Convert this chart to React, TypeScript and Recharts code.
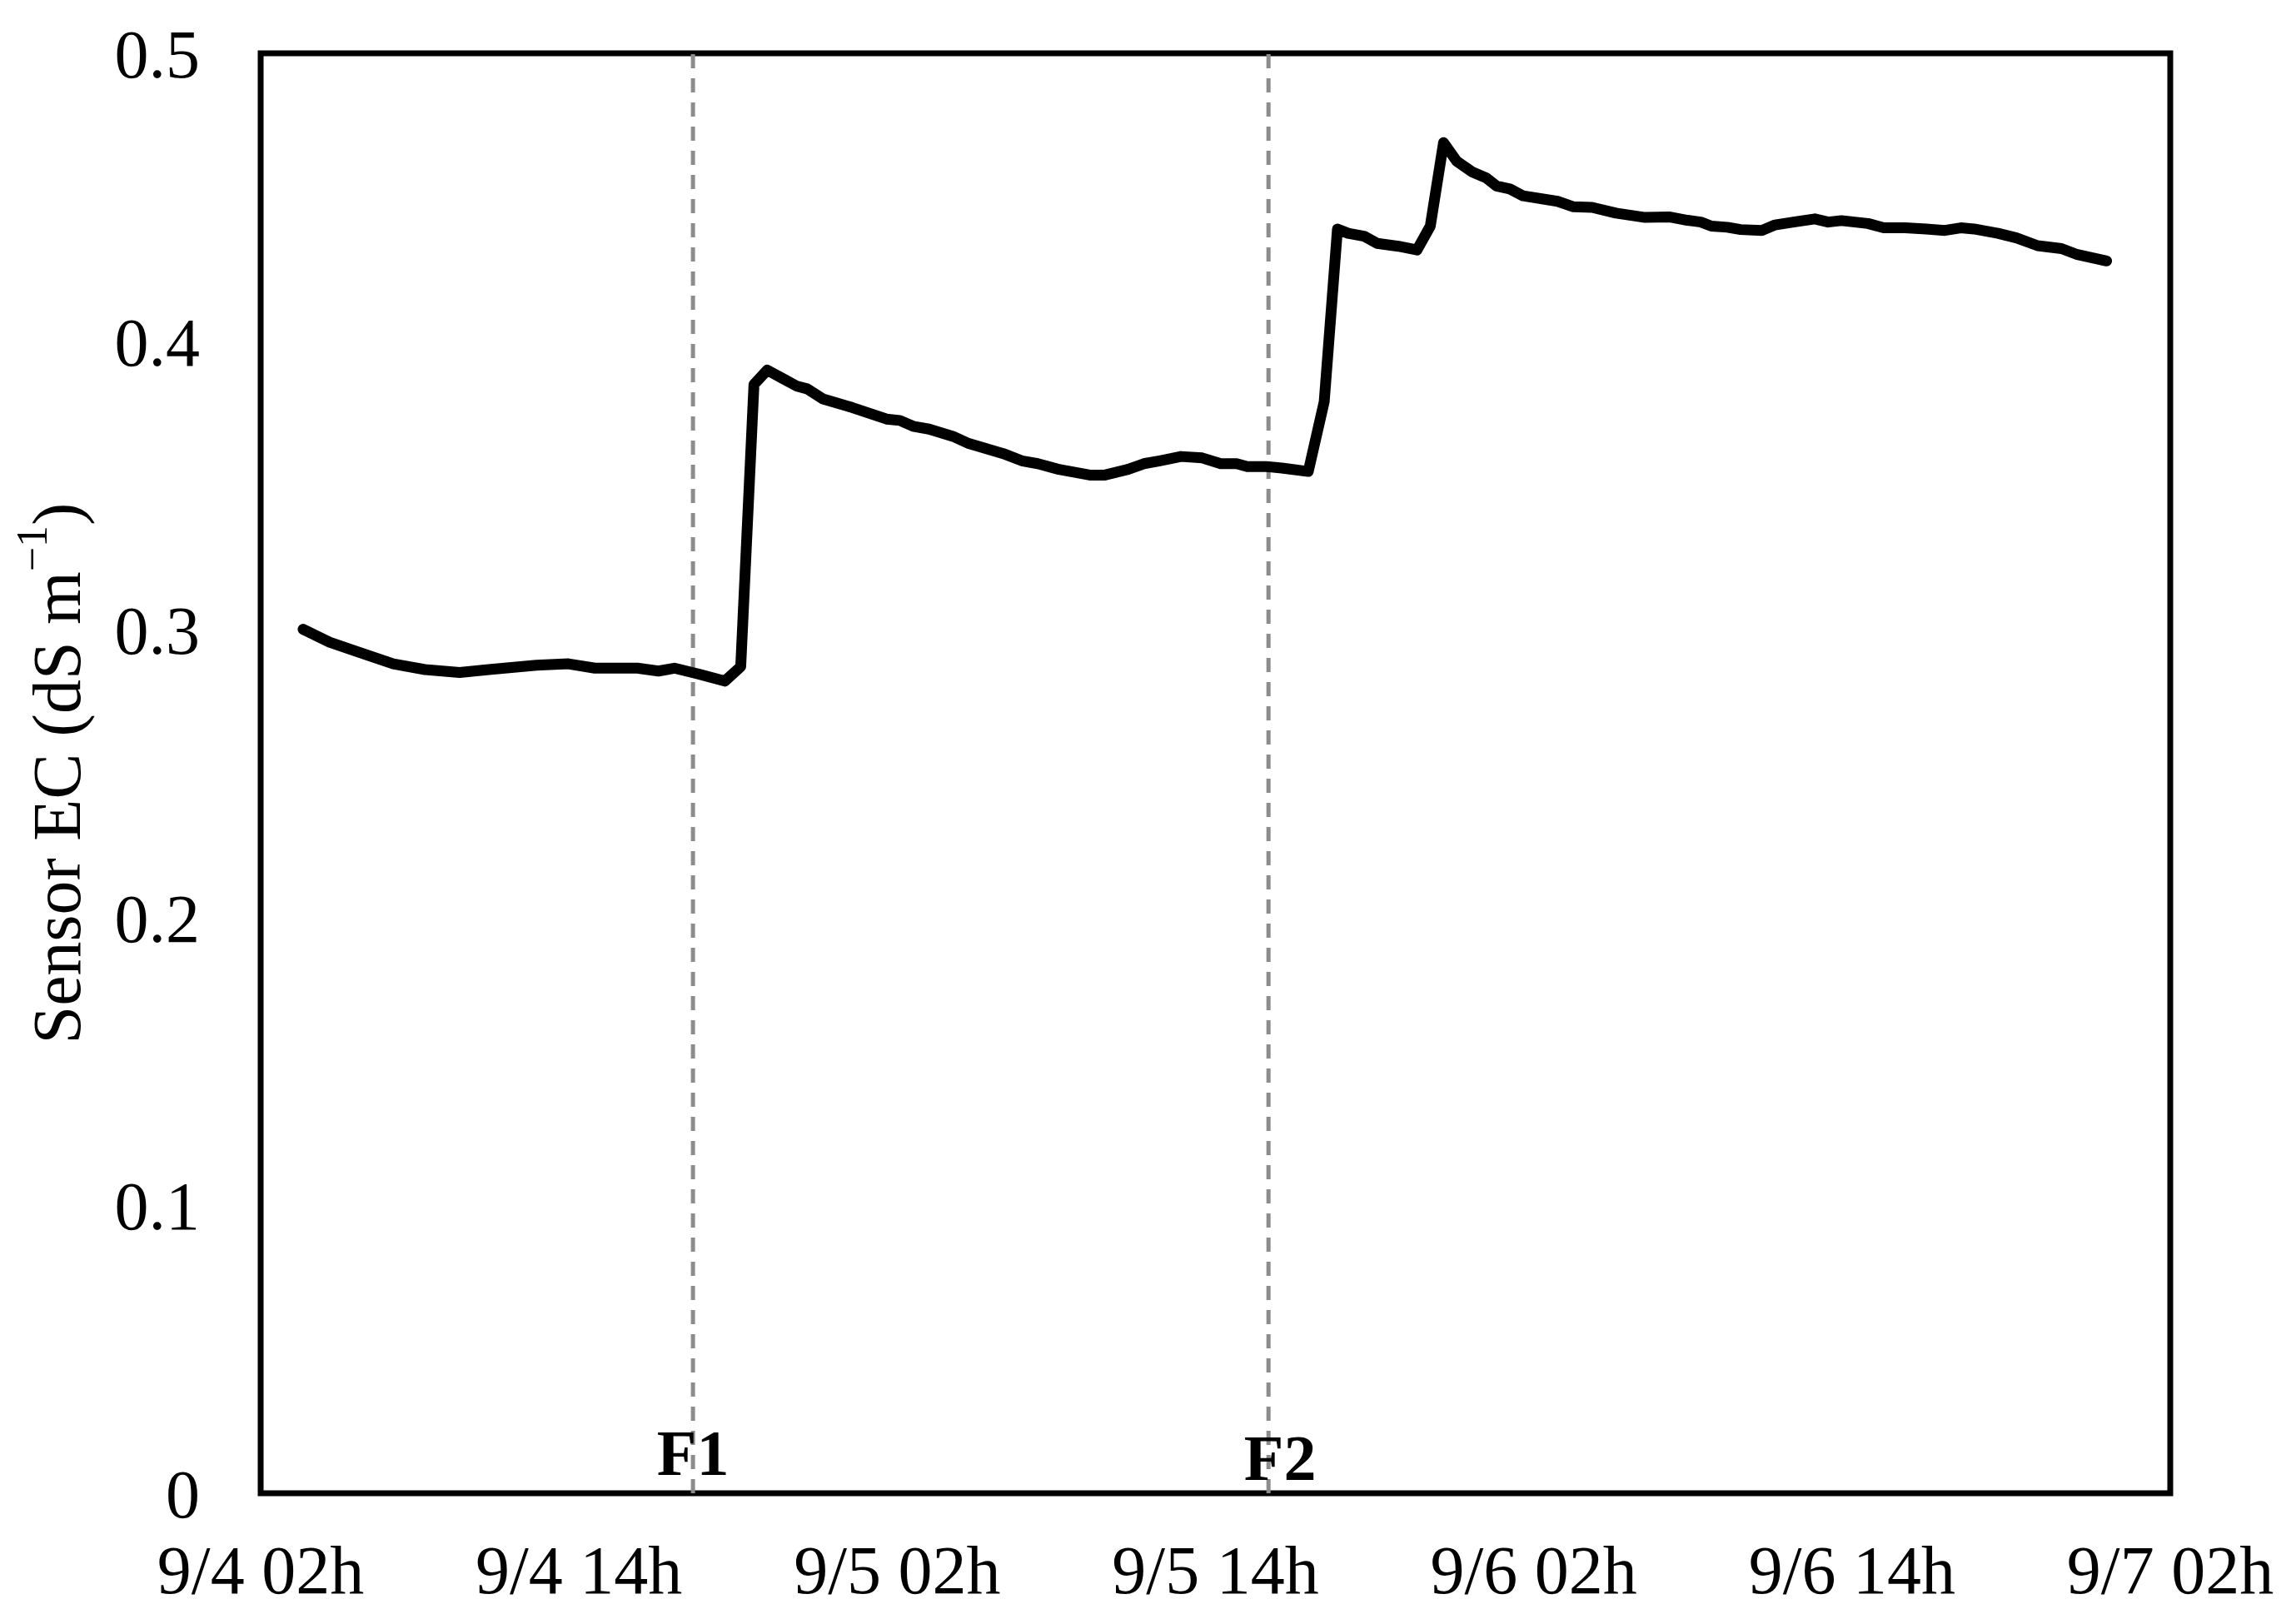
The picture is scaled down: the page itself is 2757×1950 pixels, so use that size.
import React from 'react';
import { LineChart, Line, XAxis, YAxis, ReferenceLine, ReferenceArea } from 'recharts';

// hours since 9/4 02h
const hours = [
  1.6, 2.6, 3.4, 5.0, 6.2, 7.5, 8.6, 10.4, 11.6, 12.6, 14.2, 15.0, 15.6, 16.5, 17.5, 18.1,
  18.6, 19.1, 19.7, 20.2, 20.6, 21.2, 22.3, 23.6, 24.1, 24.6, 25.2, 26.1, 26.7, 28.0, 28.7,
  29.3, 30.1, 31.3, 31.8, 32.7, 33.3, 33.9, 34.7, 35.5, 36.2, 36.8, 37.2, 37.9, 38.5, 39.5,
  40.1, 40.6, 41.0, 41.6, 42.1, 42.9, 43.6, 44.1, 44.6, 45.1, 45.7, 46.2, 46.6, 47.1, 47.6,
  48.9, 49.5, 50.2, 51.1, 52.2, 53.1, 53.8, 54.3, 54.7, 55.3, 55.8, 56.6, 57.1, 57.8, 58.6,
  59.1, 59.6, 60.6, 61.2, 62.0, 62.8, 63.5, 64.1, 64.6, 65.5, 66.2, 67.0, 67.9, 68.5, 69.6,
];

const sensorEC = [
  0.300, 0.2955, 0.293, 0.288, 0.286, 0.285, 0.286, 0.2875, 0.288, 0.2865, 0.2865, 0.2855, 0.2865, 0.2845, 0.282, 0.287,
  0.385, 0.390, 0.387, 0.3845, 0.3835, 0.380, 0.377, 0.373, 0.3725, 0.3705, 0.3695, 0.367, 0.3645, 0.361, 0.3585,
  0.3575, 0.3555, 0.3535, 0.3535, 0.3555, 0.3575, 0.3585, 0.360, 0.3595, 0.3575, 0.3575, 0.3565, 0.3565, 0.356, 0.3548,
  0.379, 0.439, 0.4375, 0.4365, 0.434, 0.433, 0.4317, 0.440, 0.469, 0.4625, 0.4587, 0.4568, 0.4539, 0.4529, 0.4505,
  0.4486, 0.4467, 0.4465, 0.4445, 0.443, 0.4432, 0.442, 0.4414, 0.440, 0.4396, 0.4388, 0.4385, 0.4404, 0.4414, 0.4425,
  0.4414, 0.4419, 0.4409, 0.4394, 0.4394, 0.439, 0.4385, 0.4394, 0.439, 0.4375, 0.4359, 0.4332, 0.4322, 0.4301, 0.4279,
];

const xTicks = [0, 12, 24, 36, 48, 60, 72];
const xTickLabels = ['9/4 02h', '9/4 14h', '9/5 02h', '9/5 14h', '9/6 02h', '9/6 14h', '9/7 02h'];
const yTicks = [0, 0.1, 0.2, 0.3, 0.4, 0.5];

const events = [
  { name: 'F1', hour: 16.3 },
  { name: 'F2', hour: 38.0 },
];

const data = hours.map((h, i) => ({ t: h, ec: sensorEC[i] }));

const FONT = '"Liberation Serif", "Times New Roman", serif';
const FS = 82;

const eventLabelShift: Record<string, { dx: number; bottom: number }> = {
  F1: { dx: 0, bottom: 22 },
  F2: { dx: 14, bottom: 16 },
};

export default function App() {
  return (
    <div style={{ position: 'absolute', left: 0, top: 0, width: 2757, height: 1950, background: '#fff' }}>
      <LineChart
        width={2757}
        height={1950}
        data={data}
        margin={{ top: 64, right: 151, bottom: 0, left: 0 }}
      >
        <XAxis
          dataKey="t"
          type="number"
          domain={[0, 72]}
          ticks={xTicks}
          allowDataOverflow
          interval={0}
          axisLine={false}
          tickLine={false}
          tickSize={0}
          tickMargin={62}
          height={157}
          tickFormatter={(v: number) => xTickLabels[xTicks.indexOf(v)] ?? ''}
          tick={{ fontFamily: FONT, fontSize: FS, fill: '#000' }}
        />
        <YAxis
          type="number"
          domain={[0, 0.5]}
          ticks={yTicks}
          interval={0}
          width={313}
          axisLine={false}
          tickLine={false}
          tickSize={0}
          tickMargin={73}
          tick={{ fontFamily: FONT, fontSize: FS, fill: '#000' }}
          label={{
            content: (props: any) => {
              const vb = props.viewBox || {};
              const cx = 68;
              const cy = (vb.y ?? 62) + (vb.height ?? 1731) / 2;
              return (
                <text
                  x={cx}
                  y={cy}
                  transform={`rotate(-90, ${cx}, ${cy})`}
                  textAnchor="middle"
                  dominantBaseline="central"
                  fontFamily={FONT}
                  fontSize={FS}
                  fill="#000"
                >
                  <tspan>Sensor EC (dS m</tspan>
                  <tspan fontSize={52} dy={-30}>−1</tspan>
                  <tspan dy={30}>)</tspan>
                </text>
              );
            },
          }}
        />
        <ReferenceArea
          x1={0}
          x2={72}
          y1={0}
          y2={0.5}
          fill="none"
          fillOpacity={0}
          stroke="#000"
          strokeWidth={7}
          ifOverflow="visible"
        />
        {events.map((e) => (
          <ReferenceLine
            key={e.name}
            x={e.hour}
            stroke="#8c8c8c"
            strokeWidth={5}
            strokeDasharray="17 12"
            label={{
              content: (props: any) => {
                const vb = props.viewBox || {};
                const s = eventLabelShift[e.name];
                return (
                  <text
                    x={(vb.x ?? 0) + s.dx}
                    y={(vb.y ?? 0) + (vb.height ?? 0) - s.bottom}
                    textAnchor="middle"
                    fontFamily={FONT}
                    fontWeight="bold"
                    fontSize={78}
                    fill="#000"
                  >
                    {e.name}
                  </text>
                );
              },
            }}
          />
        ))}
        <Line
          type="linear"
          dataKey="ec"
          stroke="#000"
          strokeWidth={13}
          dot={false}
          strokeLinecap="round"
          strokeLinejoin="round"
          isAnimationActive={false}
        />
      </LineChart>
    </div>
  );
}
